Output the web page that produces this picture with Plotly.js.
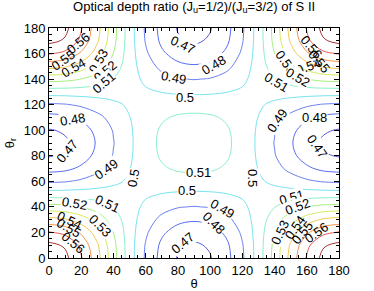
<!DOCTYPE html>
<html>
<head>
<meta charset="utf-8">
<script src="https://cdn.plot.ly/plotly-3.0.1.min.js"></script>
<style>
html,body{margin:0;padding:0;background:#fff;}
#chart{width:374px;height:291px;}
</style>
</head>
<body>
<div id="chart"></div>
<script>
// Angles (degrees)
var thetaVals  = [0,10,20,30,40,50,60,70,80,90,100,110,120,130,140,150,160,170,180];
var thetaRVals = [0,10,20,30,40,50,60,70,80,90,100,110,120,130,140,150,160,170,180];

// Optical depth ratio, rows = theta_r, columns = theta
var ratioRows = [
 [0.5770,0.5727,0.5608,0.5435,0.5238,0.5047,0.4885,0.4766,0.4694,0.4670,0.4694,0.4766,0.4885,0.5047,0.5238,0.5435,0.5608,0.5727,0.5770],
 [0.5727,0.5688,0.5576,0.5413,0.5228,0.5047,0.4893,0.4779,0.4710,0.4687,0.4710,0.4779,0.4893,0.5047,0.5228,0.5413,0.5576,0.5688,0.5727],
 [0.5608,0.5576,0.5485,0.5352,0.5198,0.5047,0.4916,0.4817,0.4757,0.4737,0.4757,0.4817,0.4916,0.5047,0.5198,0.5352,0.5485,0.5576,0.5608],
 [0.5435,0.5413,0.5352,0.5260,0.5153,0.5044,0.4948,0.4873,0.4826,0.4810,0.4826,0.4873,0.4948,0.5044,0.5153,0.5260,0.5352,0.5413,0.5435],
 [0.5238,0.5228,0.5198,0.5153,0.5097,0.5037,0.4982,0.4936,0.4906,0.4896,0.4906,0.4936,0.4982,0.5037,0.5097,0.5153,0.5198,0.5228,0.5238],
 [0.5047,0.5047,0.5047,0.5044,0.5037,0.5026,0.5012,0.4998,0.4987,0.4983,0.4987,0.4998,0.5012,0.5026,0.5037,0.5044,0.5047,0.5047,0.5047],
 [0.4885,0.4893,0.4916,0.4948,0.4982,0.5012,0.5035,0.5050,0.5058,0.5060,0.5058,0.5050,0.5035,0.5012,0.4982,0.4948,0.4916,0.4893,0.4885],
 [0.4766,0.4779,0.4817,0.4873,0.4936,0.4998,0.5050,0.5089,0.5112,0.5120,0.5112,0.5089,0.5050,0.4998,0.4936,0.4873,0.4817,0.4779,0.4766],
 [0.4694,0.4710,0.4757,0.4826,0.4906,0.4987,0.5058,0.5112,0.5146,0.5157,0.5146,0.5112,0.5058,0.4987,0.4906,0.4826,0.4757,0.4710,0.4694],
 [0.4670,0.4687,0.4737,0.4810,0.4896,0.4983,0.5060,0.5120,0.5157,0.5170,0.5157,0.5120,0.5060,0.4983,0.4896,0.4810,0.4737,0.4687,0.4670],
 [0.4694,0.4710,0.4757,0.4826,0.4906,0.4987,0.5058,0.5112,0.5146,0.5157,0.5146,0.5112,0.5058,0.4987,0.4906,0.4826,0.4757,0.4710,0.4694],
 [0.4766,0.4779,0.4817,0.4873,0.4936,0.4998,0.5050,0.5089,0.5112,0.5120,0.5112,0.5089,0.5050,0.4998,0.4936,0.4873,0.4817,0.4779,0.4766],
 [0.4885,0.4893,0.4916,0.4948,0.4982,0.5012,0.5035,0.5050,0.5058,0.5060,0.5058,0.5050,0.5035,0.5012,0.4982,0.4948,0.4916,0.4893,0.4885],
 [0.5047,0.5047,0.5047,0.5044,0.5037,0.5026,0.5012,0.4998,0.4987,0.4983,0.4987,0.4998,0.5012,0.5026,0.5037,0.5044,0.5047,0.5047,0.5047],
 [0.5238,0.5228,0.5198,0.5153,0.5097,0.5037,0.4982,0.4936,0.4906,0.4896,0.4906,0.4936,0.4982,0.5037,0.5097,0.5153,0.5198,0.5228,0.5238],
 [0.5435,0.5413,0.5352,0.5260,0.5153,0.5044,0.4948,0.4873,0.4826,0.4810,0.4826,0.4873,0.4948,0.5044,0.5153,0.5260,0.5352,0.5413,0.5435],
 [0.5608,0.5576,0.5485,0.5352,0.5198,0.5047,0.4916,0.4817,0.4757,0.4737,0.4757,0.4817,0.4916,0.5047,0.5198,0.5352,0.5485,0.5576,0.5608],
 [0.5727,0.5688,0.5576,0.5413,0.5228,0.5047,0.4893,0.4779,0.4710,0.4687,0.4710,0.4779,0.4893,0.5047,0.5228,0.5413,0.5576,0.5688,0.5727],
 [0.5770,0.5727,0.5608,0.5435,0.5238,0.5047,0.4885,0.4766,0.4694,0.4670,0.4694,0.4766,0.4885,0.5047,0.5238,0.5435,0.5608,0.5727,0.5770]
];

// Contour levels and their line colours
var levelStart = 0.47;
var levelEnd   = 0.57;
var levelStep  = 0.01;
var levelColors = ['#5a5ae8','#5a6cf0','#6a80f0','#78e4f0','#8cf0c8','#a8f080','#d4ec5c','#f4c850','#f49450','#ec5858','#a83434'];

// Contour labels: level value and where it sits on its line
var labelLevels = [0.56,0.55,0.54,0.53,0.52,0.51, 0.47,0.48,0.49,0.5,
                   0.56,0.55,0.54,0.53,0.52,0.51,
                   0.48,0.47,0.49,0.5,0.51, 0.49,0.48,0.47,0.5,
                   0.5,0.52,0.51,0.54,0.55,0.56,0.53, 0.49,0.48,0.47,
                   0.51,0.52,0.53,0.54,0.55,0.56];
var labelTheta  = [18.0,8.7,15.5,31.0,34.8,34.1, 82.6,101.8,77.0,84.4,
                   163.2,167.5,160.8,146.5,154.5,141.5,
                   14.3,11.2,35.4,52.1,92.5, 141.5,165.1,166.3,126.6,
                   85.7,16.1,36.0,13.0,11.8,14.9,31.7, 107.4,101.8,82.6,
                   150.4,154.5,143.6,152.9,157.5,166.3];
var labelThetaR = [167.5,154.2,148.7,154.2,145.6,137.7, 166.7,151.0,140.9,126.0,
                   165.1,153.4,149.5,153.4,140.9,137.7,
                   108.5,83.0,68.9,62.6,67.3, 108.0,109.6,86.9,62.6,
                   53.2,43.0,43.0,29.7,23.5,12.5,25.8, 39.1,27.4,11.7,
                   47.5,40.4,19.6,23.5,19.6,19.6];
var labelAngles = [-40,-35,-30,-60,-40,-40, 25,-30,10,0,
                   50,50,-20,55,30,30,
                   -10,-50,-35,-80,0, -55,0,55,90,
                   0,10,25,25,30,40,45, 30,45,-40,
                   -15,-20,-65,-55,-50,-35];

var xTicks = [0,20,40,60,80,100,120,140,160,180];
var yTicks = [0,20,40,60,80,100,120,140,160,180];

var colorscale = levelColors.map(function(c, i){ return [i/(levelColors.length-1), c]; });

var FONT = 'Liberation Sans, Arial, Helvetica, sans-serif';

var trace = {
  type: 'contour',
  x: thetaVals,
  y: thetaRVals,
  z: ratioRows,
  autocontour: false,
  contours: {
    start: levelStart, end: levelEnd, size: levelStep,
    coloring: 'lines',
    showlabels: false
  },
  colorscale: colorscale,
  showscale: false,
  line: {width: 1, smoothing: 1},
  hoverinfo: 'skip'
};

// Labels in the crowded corners (>= 0.53) are drawn without a backing box so they stay legible
var annotations = labelLevels.map(function(lv, i){
  var crowded = lv >= 0.535;
  return {
    x: labelTheta[i], y: labelThetaR[i], xref: 'x', yref: 'y',
    text: String(lv), showarrow: false, textangle: labelAngles[i],
    font: {family: FONT, size: 13, color: '#000'},
    bgcolor: crowded ? 'rgba(255,255,255,0)' : '#ffffff', borderpad: 0,
    xanchor: 'center', yanchor: 'middle'
  };
});

var axisCommon = {
  range: [0,180],
  tickmode: 'array',
  showgrid: false,
  zeroline: false,
  showline: true,
  linecolor: '#000',
  linewidth: 1,
  mirror: 'allticks',
  ticks: 'inside',
  ticklen: 5,
  tickcolor: '#000',
  tickfont: {family: FONT, size: 13, color: '#000'},
  minor: {dtick: 5, ticks: 'inside', ticklen: 3, tickcolor: '#000'}
};

var layout = {
  width: 374, height: 291,
  margin: {l: 49, r: 35, t: 28, b: 33, pad: 0},
  paper_bgcolor: '#fff',
  plot_bgcolor: '#fff',
  font: {family: FONT, size: 13, color: '#000'},
  title: {
    text: 'Optical depth ratio (J<sub>u</sub>=1/2)/(J<sub>u</sub>=3/2) of S II',
    font: {family: FONT, size: 13, color: '#000'},
    x: 0.519, xanchor: 'center',
    y: 0.995, yanchor: 'top', yref: 'container'
  },
  xaxis: Object.assign({}, axisCommon, {
    tickvals: xTicks, ticktext: xTicks.map(String),
    title: {text: 'θ', font: {family: FONT, size: 13, color: '#000'}, standoff: 2}
  }),
  yaxis: Object.assign({}, axisCommon, {
    tickvals: yTicks, ticktext: yTicks.map(String),
    title: {text: 'θ<sub>r</sub>', font: {family: FONT, size: 13, color: '#000'}, standoff: 6}
  }),
  annotations: annotations,
  showlegend: false
};

Plotly.newPlot('chart', [trace], layout, {displayModeBar: false, staticPlot: true});
</script>
</body>
</html>
